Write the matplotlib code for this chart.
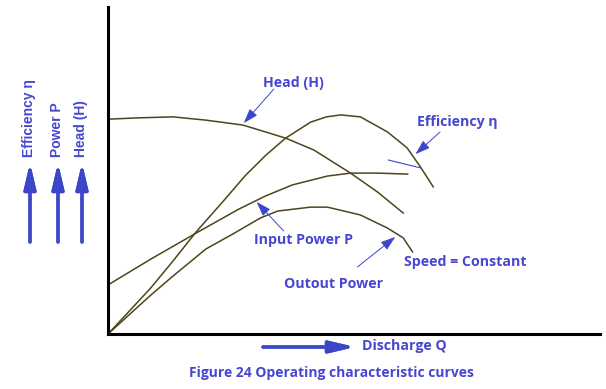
import matplotlib
matplotlib.use('Agg')
import matplotlib.pyplot as plt

# curves (Q and value in 0..100 units)
head_q = [0, 6.3, 13.2, 19.9, 27.4, 32.0, 36.1, 41.8, 49.3, 54.8, 60.0]
head_v = [65.7, 66.1, 66.4, 65.4, 63.9, 61.8, 59.9, 56.3, 49.2, 43.4, 37.0]

eff_q = [0, 4.7, 8.7, 13.2, 17.9, 23.3, 28.0, 32.1, 36.1, 41.2, 44.4, 47.3, 51.3, 56.8, 60.8, 63.5, 66.1]
eff_v = [0, 7.6, 14.1, 22.3, 31.2, 40.4, 48.6, 54.7, 59.9, 64.8, 66.4, 67.0, 66.4, 61.8, 56.9, 51.1, 45.0]

inp_q = [0, 8.7, 18.3, 26.6, 32.0, 37.5, 44.6, 49.3, 54.8, 60.9]
inp_v = [15.0, 22.9, 31.2, 38.2, 42.2, 45.6, 48.3, 49.2, 49.2, 48.9]

out_q = [0, 8.7, 13.2, 19.9, 25.4, 31.0, 34.5, 41.2, 44.6, 51.3, 56.8, 60.0, 61.9]
out_v = [0, 11.9, 17.7, 26.0, 30.6, 35.5, 37.6, 38.8, 38.8, 36.4, 32.4, 29.4, 25.1]

W, H = 606, 389
BLUE_TXT = '#4646d2'
BLUE_ARR = '#3c46c8'
CURVE = '#4e451a'
FONT = 'Open Sans'

def fx(x):
    return x / W

def fy(y):
    return 1 - y / H

fig = plt.figure(figsize=(W / 100, H / 100), dpi=100)
ax = fig.add_axes([fx(108), fy(334), (600 - 108) / W, (334 - 7) / H])
ax.set_xlim(0, 100)
ax.set_ylim(0, 100)
for s in ['top', 'right']:
    ax.spines[s].set_visible(False)
for s in ['left', 'bottom']:
    ax.spines[s].set_linewidth(2.2)
    ax.spines[s].set_color('black')
ax.set_xticks([])
ax.set_yticks([])

for q, v in [(head_q, head_v), (eff_q, eff_v), (inp_q, inp_v), (out_q, out_v)]:
    ax.plot(q, v, color=CURVE, lw=1.1, solid_joinstyle='round', clip_on=False)

arr = dict(arrowstyle='-|>,head_length=0.9,head_width=0.3', color=BLUE_ARR, lw=0.7,
           mutation_scale=10, shrinkA=0, shrinkB=0)
tkw = dict(color=BLUE_TXT, fontsize=10.2, fontweight='bold', family=FONT, ha='center', va='center')

# Head
ax.annotate('', xy=(27.6, 64.5), xytext=(33.7, 74.9), arrowprops=arr)
ax.text(37.7, 76.7, 'Head (H)', **tkw)
# Efficiency
ax.annotate('', xy=(62.5, 55.0), xytext=(67.5, 61.8), arrowprops=arr)
ax.text(71.0, 64.8, 'Efficiency η', **tkw)
ax.plot([57.0, 63.5], [53.2, 50.8], color=BLUE_ARR, lw=0.8)
# Input power
ax.annotate('', xy=(30.2, 40.4), xytext=(35.7, 31.5), arrowprops=arr)
ax.text(39.8, 28.7, 'Input Power P', **tkw)
# Output power
ax.annotate('', xy=(58.4, 29.7), xytext=(50.7, 20.5), arrowprops=arr)
ax.text(45.8, 15.3, 'Outout Power', **tkw)
ax.text(72.6, 22.0, 'Speed = Constant', **tkw)

# left axis labels with arrows
big = dict(arrowstyle='-|>,head_length=0.85,head_width=0.2', color=BLUE_ARR, lw=2.4,
           mutation_scale=18, shrinkA=0, shrinkB=0)
lkw = dict(color=BLUE_TXT, fontsize=10, fontweight='bold', family='Liberation Sans',
           rotation=90, ha='center', va='bottom')
for x, lab in [(29, 'Efficiency η'), (57, 'Power P'), (81, 'Head (H)')]:
    fig.text(fx(x), fy(157), lab, **lkw)
    fig.add_artist(plt.annotate('', xy=(fx(x + 1), fy(163)), xytext=(fx(x + 1), fy(242)),
                                xycoords='figure fraction', textcoords='figure fraction',
                                arrowprops=big))

# discharge arrow
fig.add_artist(plt.annotate('', xy=(fx(355), fy(347)), xytext=(fx(263), fy(347)),
                            xycoords='figure fraction', textcoords='figure fraction',
                            arrowprops=big))
fig.text(fx(362), fy(346), 'Discharge Q', color=BLUE_TXT, fontsize=10.2, fontweight='bold',
         family=FONT, ha='left', va='center')

fig.text(fx(331), fy(373), 'Figure 24 Operating characteristic curves', color=BLUE_TXT,
         fontsize=10, fontweight='bold', family=FONT, ha='center', va='center')

fig.savefig('out.png', dpi=100, facecolor='white')
